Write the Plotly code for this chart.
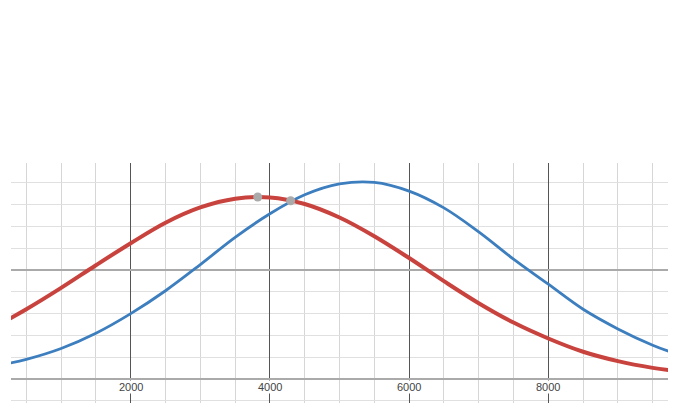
import plotly.graph_objects as go

# x positions (sample points)
x_vals = [250, 500, 1000, 1500, 2000, 2500, 3000, 3500, 4000, 4500, 5000,
          5500, 6000, 6500, 7000, 7500, 8000, 8500, 9000, 9500, 9750]
red_vals = [2.75, 3.20, 4.18, 5.22, 6.23, 7.17, 7.87, 8.27, 8.33, 8.03, 7.41,
            6.55, 5.55, 4.49, 3.48, 2.59, 1.86, 1.25, 0.82, 0.51, 0.40]
blue_vals = [0.72, 0.90, 1.40, 2.10, 3.00, 4.05, 5.25, 6.50, 7.58, 8.45, 8.95,
             9.02, 8.62, 7.85, 6.75, 5.50, 4.35, 3.20, 2.30, 1.55, 1.25]
# highlighted points: red maximum and the intersection
pt_x = [3825, 4298]
pt_y = [8.35, 8.18]
tick_vals = [2000, 4000, 6000, 8000]
tick_text = ["2000", "4000", "6000", "8000"]

fig = go.Figure()
fig.add_trace(go.Scatter(x=x_vals, y=blue_vals, mode="lines",
                         line=dict(color="#3d7ebf", width=2.8, shape="spline"),
                         hoverinfo="skip"))
fig.add_trace(go.Scatter(x=x_vals, y=red_vals, mode="lines",
                         line=dict(color="#c9433e", width=4, shape="spline"),
                         hoverinfo="skip"))
fig.add_trace(go.Scatter(x=pt_x, y=pt_y, mode="markers",
                         marker=dict(color="#aaaaaa", size=9),
                         hoverinfo="skip"))

for v, t in zip(tick_vals, tick_text):
    fig.add_annotation(x=v, y=0, text=t, showarrow=False, yanchor="top",
                       yshift=-1, bgcolor="white", borderpad=0,
                       font=dict(family="Liberation Sans, Arial", size=11, color="#444444"))

fig.update_layout(
    width=676, height=403,
    margin=dict(l=3, r=15, t=155, b=8),
    plot_bgcolor="white", paper_bgcolor="white",
    showlegend=False,
    xaxis=dict(range=[280, 9734], tick0=0, dtick=2000, showgrid=True,
               gridcolor="#555555", gridwidth=1, zeroline=False,
               showticklabels=False, ticks="",
               minor=dict(dtick=500, tick0=0, showgrid=True, gridcolor="#d6d6d6", gridwidth=1)),
    yaxis=dict(range=[-1.10, 9.91], tick0=0, dtick=5, showgrid=True,
               gridcolor="#aaaaaa", gridwidth=2, zeroline=False,
               showticklabels=False, ticks="",
               minor=dict(dtick=1, tick0=0, showgrid=True, gridcolor="#e0e0e0", gridwidth=1)),
)

fig.write_html("out.html")
